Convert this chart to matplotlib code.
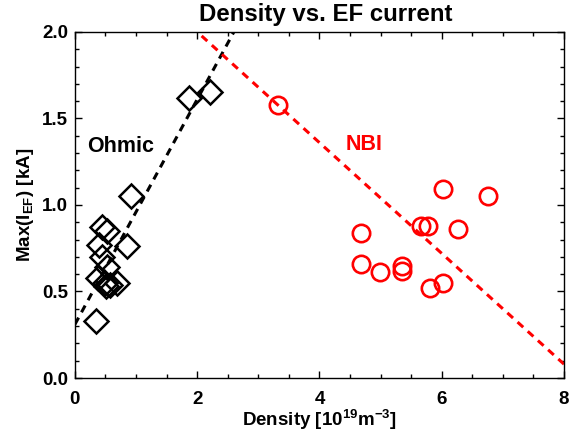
import numpy as np
import matplotlib
matplotlib.use("Agg")
import matplotlib.pyplot as plt

# Ohmic shots (black diamonds)
ohm_dens = [0.34, 0.38, 0.44, 0.52, 0.40, 0.85, 0.44, 0.52, 0.49, 0.57, 0.69, 0.51, 0.92, 1.87, 2.21]
ohm_ief = [0.33, 0.58, 0.87, 0.85, 0.77, 0.76, 0.70, 0.64, 0.55, 0.54, 0.55, 0.53, 1.05, 1.62, 1.65]

# NBI shots (red circles)
nbi_dens = [3.32, 6.02, 6.76, 4.68, 5.66, 5.78, 6.27, 4.68, 4.99, 5.35, 5.35, 5.81, 6.02]
nbi_ief = [1.58, 1.09, 1.05, 0.84, 0.88, 0.88, 0.86, 0.66, 0.61, 0.65, 0.62, 0.52, 0.55]

# fitted trend lines (intercept, slope)
ohm_fit = [0.31, 0.65]
nbi_fit = [2.64, -0.32]

plt.rcParams['font.family'] = ['Liberation Sans', 'DejaVu Sans']
plt.rcParams['font.weight'] = 'bold'
plt.rcParams['mathtext.fontset'] = 'custom'
plt.rcParams['mathtext.rm'] = 'Liberation Sans:bold'
plt.rcParams['mathtext.bf'] = 'Liberation Sans:bold'
plt.rcParams['mathtext.default'] = 'bf'

fig = plt.figure(figsize=(5.72, 4.37), dpi=100)
ax = fig.add_axes([0.131, 0.135, 0.855, 0.792])

xx = np.linspace(0, 8, 200)
ax.plot(xx, ohm_fit[0] + ohm_fit[1] * xx, color='black', lw=2.2, dashes=(2.5, 2.0))
ax.plot(xx, nbi_fit[0] + nbi_fit[1] * xx, color='red', lw=2.2, dashes=(2.5, 2.0))

ax.plot(ohm_dens, ohm_ief, 'D', ms=12, mfc='none', mec='black', mew=1.8, ls='none')
ax.plot(nbi_dens, nbi_ief, 'o', ms=12.5, mfc='none', mec='red', mew=1.9, ls='none')

ax.text(0.2, 1.34, 'Ohmic', fontsize=15.5, fontweight='bold', color='black', va='center')
ax.text(4.42, 1.35, 'NBI', fontsize=15.5, fontweight='bold', color='red', va='center')

ax.set_xlim(0, 8)
ax.set_ylim(0, 2.0)
ax.set_xticks([0, 2, 4, 6, 8])
ax.set_xticks(np.arange(0, 8.01, 0.5), minor=True)
ax.set_yticks([0.0, 0.5, 1.0, 1.5, 2.0])
ax.set_yticks(np.arange(0, 2.01, 0.1), minor=True)
ax.set_yticklabels(['0.0', '0.5', '1.0', '1.5', '2.0'])
ax.tick_params(which='both', direction='in', top=True, right=True, labelsize=13.5)
ax.tick_params(which='major', length=5, width=1)
ax.tick_params(which='minor', length=3.2, width=1)
ax.tick_params(axis='x', pad=9)
ax.tick_params(axis='y', pad=5)
for s in ax.spines.values():
    s.set_linewidth(1)

ax.set_title('Density vs. EF current', fontsize=17.3, fontweight='bold', pad=7.5, x=0.512)
ax.set_xlabel(r'Density [10$^{19}$m$^{-3}$]', fontsize=13.5, fontweight='bold', labelpad=0)
ax.set_ylabel(r'Max(I$_{EF}$) [kA]', fontsize=13.5, fontweight='bold', labelpad=4)

fig.savefig('out.png', dpi=100)
